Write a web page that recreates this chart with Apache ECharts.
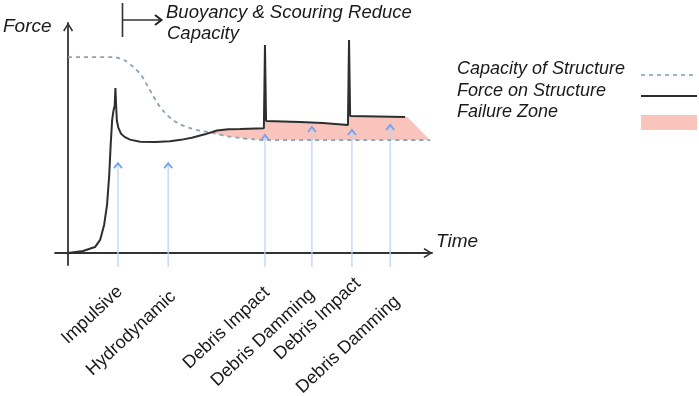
<!DOCTYPE html>
<html>
<head>
<meta charset="utf-8">
<script src="https://cdn.jsdelivr.net/npm/echarts@6/dist/echarts.min.js"></script>
<style>
  html, body { margin: 0; padding: 0; background: #ffffff; }
  #chart { width: 699px; height: 396px; }
</style>
</head>
<body>
<div id="chart"></div>
<script>
// ---- Data (schematic values; time 0..100, force 0..100) ----
const forceT = [0, 4.1, 7.4, 8.8, 9.9, 10.7, 11.3, 11.7, 12.1, 12.5, 12.8, 13.0, 13.2, 13.4, 13.8, 14.5, 15.5, 17, 19.8, 24, 28, 31, 34, 37.6, 40.9, 44, 47.3, 53.8, 54.1, 54.4, 63.7, 70, 76.9, 77.2, 77.5, 92.6];
const forceF = [0, 0.9, 2.6, 5.7, 12.2, 20.9, 33.9, 47.0, 57.8, 62.2, 64, 71.7, 64, 57.5, 54.5, 52.0, 50.5, 49.3, 48.4, 48.3, 48.6, 49.2, 50.1, 51.6, 53.3, 53.8, 53.9, 54.3, 90.4, 57.4, 57.0, 56.5, 55.7, 92.6, 59.6, 59.1];

const capacityT = [0, 12.4, 15.5, 17.9, 20, 21.7, 23.2, 24.5, 26.5, 28.8, 31, 33.5, 36.5, 39.8, 43.5, 47.3, 51, 54.7, 99.5];
const capacityF = [85.2, 85.2, 83.8, 80.9, 77.5, 73.0, 68.8, 65.2, 61.2, 57.8, 55.8, 54.3, 53.1, 52.2, 50.8, 50.0, 49.4, 49.1, 49.1];

// outline of the failure zone (force above capacity)
const failureT = [39.2, 40.9, 44, 47.3, 54.1, 54.1, 63.7, 70, 77.2, 77.2, 92.6, 93.2, 98.9, 98.9, 54.7, 51, 47.3, 43.5, 39.8];
const failureF = [52.4, 53.3, 53.8, 53.9, 54.3, 57.4, 57.0, 56.5, 55.7, 59.6, 59.1, 59.1, 50.0, 49.1, 49.1, 49.4, 50.0, 50.8, 52.2];

const eventNames = ['Impulsive', 'Hydrodynamic', 'Debris Impact', 'Debris Damming', 'Debris Impact', 'Debris Damming'];
const eventTimes = [13.7, 27.5, 54.1, 67.0, 78.0, 88.5];
const eventArrowTops = [39.1, 39.1, 51.3, 54.8, 53.5, 55.7];
const eventArrowBase = -6.1;

const legendNames = ['Capacity of Structure', 'Force on Structure', 'Failure Zone'];

// ---- Layout / style ----
const labelDx = [2, 5, 2, 0, 6, 7];
const labelDy = [22, 27, 23, 25, 14, 32];
const FONT = '"Liberation Sans", Arial, sans-serif';
const chevron = 'path://M5,0 L10,8 L8.6,9 L5,2.6 L1.4,9 L0,8 Z';

const chart = echarts.init(document.getElementById('chart'), null, { renderer: 'canvas' });

const option = {
  animation: false,
  backgroundColor: '#ffffff',
  grid: { left: 55, right: 267, top: 23, bottom: 131 },
  xAxis: {
    type: 'value', min: -3.6, max: 100,
    axisLine: { show: true, onZero: true, lineStyle: { color: '#333', width: 1.8 },
      symbol: ['none', chevron], symbolSize: [11, 9], symbolOffset: [0, -4] },
    axisTick: { show: false }, axisLabel: { show: false }, splitLine: { show: false }
  },
  yAxis: {
    type: 'value', min: -5.2, max: 100,
    axisLine: { show: true, onZero: true, lineStyle: { color: '#333', width: 1.8 },
      symbol: ['none', chevron], symbolSize: [11, 9], symbolOffset: [0, -4] },
    axisTick: { show: false }, axisLabel: { show: false }, splitLine: { show: false }
  },
  series: [
    {
      name: 'Failure Zone', type: 'custom', z: 1, clip: false,
      data: [[0, 0]],
      renderItem: function (params, api) {
        const pts = failureT.map((t, i) => api.coord([t, failureF[i]]));
        return { type: 'polygon', shape: { points: pts, smooth: 0 }, style: { fill: '#f9c4bc', stroke: null } };
      }
    },
    {
      name: 'Events', type: 'custom', z: 2, clip: false,
      data: eventTimes.map((t, i) => [t, eventArrowTops[i]]),
      renderItem: function (params, api) {
        const i = params.dataIndex;
        const t = api.value(0);
        const b = api.coord([t, eventArrowBase]);
        const h = api.coord([t, api.value(1)]);
        return {
          type: 'group',
          children: [
            { type: 'line', shape: { x1: b[0], y1: b[1], x2: h[0], y2: h[1] },
              style: { stroke: '#bfd2f2', lineWidth: 1.3 } },
            { type: 'polyline', shape: { points: [[h[0] - 4, h[1] + 5], [h[0], h[1]], [h[0] + 4, h[1] + 5]] },
              style: { stroke: '#76a1ea', lineWidth: 1.8, fill: null } },
            { type: 'text', x: b[0] + labelDx[i], y: b[1] + labelDy[i], rotation: 43 * Math.PI / 180,
              style: { text: eventNames[i], align: 'right', verticalAlign: 'middle',
                font: '18px ' + FONT, fill: '#1a1a1a' } }
          ]
        };
      }
    },
    {
      name: legendNames[0], type: 'line', z: 3, symbol: 'none', smooth: 0.3,
      data: capacityT.map((t, i) => [t, capacityF[i]]),
      lineStyle: { color: '#8ba1b5', width: 1.8, type: [4, 4] }
    },
    {
      name: legendNames[1], type: 'line', z: 4, symbol: 'none', smooth: false,
      data: forceT.map((t, i) => [t, forceF[i]]),
      lineStyle: { color: '#2e2e2e', width: 2 }
    }
  ],
  graphic: [
    // axis names
    { type: 'text', left: 3, top: 17, style: { text: 'Force', font: 'italic 19px ' + FONT, fill: '#1a1a1a' } },
    { type: 'text', left: 436, top: 232, style: { text: 'Time', font: 'italic 19px ' + FONT, fill: '#1a1a1a' } },
    // buoyancy annotation
    { type: 'line', shape: { x1: 122.5, y1: 3, x2: 122.5, y2: 37 }, style: { stroke: '#333', lineWidth: 1.6 } },
    { type: 'line', shape: { x1: 122.5, y1: 20, x2: 161, y2: 20 }, style: { stroke: '#333', lineWidth: 1.6 } },
    { type: 'polyline', shape: { points: [[155, 15], [161.5, 20], [155, 25]] }, style: { stroke: '#222', lineWidth: 2, fill: null } },
    { type: 'text', left: 166, top: 3, style: { text: 'Buoyancy & Scouring Reduce', font: 'italic 18.5px ' + FONT, fill: '#1a1a1a' } },
    { type: 'text', left: 167, top: 24, style: { text: 'Capacity', font: 'italic 18.5px ' + FONT, fill: '#1a1a1a' } },
    // legend
    { type: 'text', left: 457, top: 60, style: { text: legendNames[0], font: 'italic 18px ' + FONT, fill: '#1a1a1a' } },
    { type: 'text', left: 457, top: 82, style: { text: legendNames[1], font: 'italic 18px ' + FONT, fill: '#1a1a1a' } },
    { type: 'text', left: 457, top: 103, style: { text: legendNames[2], font: 'italic 18px ' + FONT, fill: '#1a1a1a' } },
    { type: 'line', shape: { x1: 641, y1: 75, x2: 697, y2: 75 }, style: { stroke: '#8ba1b5', lineWidth: 1.6, lineDash: [4, 4] } },
    { type: 'line', shape: { x1: 641, y1: 96, x2: 697, y2: 96 }, style: { stroke: '#2e2e2e', lineWidth: 2 } },
    { type: 'rect', shape: { x: 641, y: 115, width: 56, height: 15 }, style: { fill: '#f9c4bc' } }
  ]
};

chart.setOption(option);
</script>
</body>
</html>
